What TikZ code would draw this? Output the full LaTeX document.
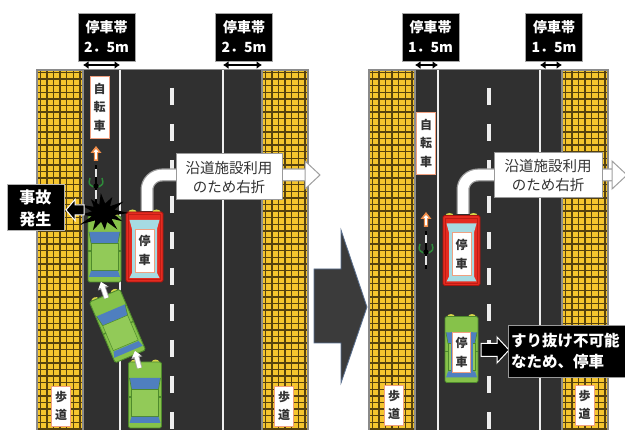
\documentclass[tikz,border=0pt]{standalone}
\usepackage{fontspec}
\setmainfont{Noto Sans CJK JP}
\usetikzlibrary{arrows.meta}

\definecolor{roadc}{HTML}{303030}
\definecolor{edgec}{HTML}{8A8A8A}
\definecolor{walkc}{HTML}{F5C52E}
\definecolor{tilec}{HTML}{56420E}
\definecolor{linec}{HTML}{EEEEEE}
\definecolor{carg}{HTML}{86C24A}
\definecolor{cargd}{HTML}{4E8A2C}
\definecolor{cargl}{HTML}{92CA58}
\definecolor{carb}{HTML}{4F7FBF}
\definecolor{carr}{HTML}{E52B20}
\definecolor{carrd}{HTML}{A8140E}
\definecolor{carlb}{HTML}{A6DBE2}
\definecolor{lampc}{HTML}{D6D64A}
\definecolor{lblbd}{HTML}{F0A080}
\definecolor{txtc}{HTML}{333333}
\definecolor{bigar}{HTML}{3B3B3B}
\definecolor{bigbd}{HTML}{5A7090}
\definecolor{bikeor}{HTML}{F08C48}
\definecolor{handg}{HTML}{2E8B3A}

% tactile-paved sidewalk strip between two x positions
\newcommand\walkstrip[2]{%
  \fill[walkc] (#1,70) rectangle (#2,440);
  \foreach \k in {0,...,55} \draw[tilec, line width=1.4] (#1,72.5+6.6*\k) -- (#2,72.5+6.6*\k);
  \foreach \k in {0,...,6} \draw[tilec, line width=1.4] (#1+3.3+6.6*\k,70) -- (#1+3.3+6.6*\k,440);
  \draw[edgec, line width=1.5] (#1,70) rectangle (#2,440);
}

\tikzset{
  headbox/.style={fill=black, draw=gray!70, line width=0.8, text=white,
    font=\bfseries\fontsize{14}{20}\selectfont, align=center,
    minimum width=57, minimum height=48, inner sep=0},
  vlabel/.style={fill=white, draw=lblbd, line width=0.8, text=txtc,
    font=\bfseries\fontsize{12}{18.5}\selectfont, align=center,
    inner sep=0, minimum width=19},
  notebox/.style={fill=white, draw=gray!80, line width=1, text=txtc,
    font=\fontsize{14.5}{19}\selectfont, align=center,
    minimum width=106, minimum height=46, inner sep=0},
  blackbox/.style={fill=black, draw=gray!80, line width=1, text=white,
    font=\bfseries\fontsize{16}{22}\selectfont, inner sep=0},
  carlbl/.style={fill=white, draw=lblbd, line width=0.8, text=txtc,
    font=\bfseries\fontsize{12}{19}\selectfont, align=center, inner sep=0},
  harrow/.style={black, line width=2.6, {Latex[length=5.5,width=8]}-{Latex[length=5.5,width=8]}},
  lanemark/.style={linec, line width=2.2},
  centremark/.style={linec, line width=3.5, dash pattern=on 17pt off 19pt},
  turnout/.style={gray!75, line width=13, rounded corners=15pt},
  turnin/.style={white, line width=10.5, rounded corners=15pt},
  movegray/.style={gray!70, line width=5.5, -{Triangle[length=7,width=11]}},
  movewhite/.style={white, line width=3.8, -{Triangle[length=5.5,width=8.5]}},
  pics/greencar/.style={code={
    \fill[lampc] (-10.5,-33) ellipse (3.8pt and 2.4pt);
    \fill[lampc] (10.5,-33) ellipse (3.8pt and 2.4pt);
    \draw[fill=carg, draw=cargd, line width=0.9, rounded corners=1.5pt] (-16.5,-33) rectangle (16.5,33);
    \fill[carb] (-15.5,-17) -- (15.5,-17) -- (13.5,-6) -- (-13.5,-6) -- cycle;
    \draw[fill=cargl, draw=cargd, line width=0.5] (-13.5,-6) rectangle (13.5,21);
    \fill[carb] (-13.5,22) -- (13.5,22) -- (15.5,28) -- (-15.5,28) -- cycle;
    \draw[cargd, line width=0.6] (-15.5,-17) -- (-13.5,-6) (15.5,-17) -- (13.5,-6);
    \draw[cargd, line width=1.3] (-16.5,2) -- (-13.5,2) (16.5,2) -- (13.5,2);
  }},
  pics/parkedgreen/.style={code={
    \pic (-body) {greencar};
    \fill[carb] (-11,-17) rectangle (11,24);
    \node[carlbl, minimum width=18, minimum height=40] (-lbl) at (0,3) {停\\車};
  }},
  pics/redcar/.style={code={
    \fill[lampc] (-12,-35) ellipse (4pt and 2.5pt);
    \fill[lampc] (12,-35) ellipse (4pt and 2.5pt);
    \draw[fill=carr, draw=carrd, line width=0.9, rounded corners=1.5pt] (-18.5,-35) rectangle (18.5,35);
    \draw[carrd!60!carr, line width=0.5] (-16,-32.5) rectangle (16,32.5);
    \fill[carlb] (-15,-27) -- (15,-27) -- (12.5,-18) -- (12.5,26) -- (15,31) -- (-15,31)
      -- (-12.5,26) -- (-12.5,-18) -- cycle;
    \node[carlbl, minimum width=19, minimum height=43] (-lbl) at (0,3.5) {停\\車};
  }},
  pics/bike/.style={code={
    \fill[bikeor] (0,-40) -- (5.5,-33) -- (2.2,-33) -- (2.2,-25) -- (-2.2,-25) -- (-2.2,-33) -- (-5.5,-33) -- cycle;
    \fill[white] (0,-37) -- (2.8,-33.8) -- (0.9,-33.8) -- (0.9,-26.5) -- (-0.9,-26.5) -- (-0.9,-33.8) -- (-2.8,-33.8) -- cycle;
    \draw[white!80!gray, line width=2.6] (0,-21) -- (0,17);
    \draw[black, line width=1.2] (0,-21) -- (0,-17) (0,-9) -- (0,4) (0,13) -- (0,17);
    \draw[handg, line width=1.5] (-6,-8) .. controls (-7.5,-2) .. (-2.5,1);
    \draw[handg, line width=1.5] (6,-8) .. controls (7.5,-2) .. (2.5,1);
    \fill[black] (0,0) circle (2.6pt);
  }},
}

\begin{document}
\begin{tikzpicture}[x=1pt, y=-1pt]
\useasboundingbox (0,0) rectangle (625,430);
\clip (0,0) rectangle (625,430);
\fill[white] (0,0) rectangle (625,430);

% ---------------- before: 2.5 m parking bands ----------------
\fill[roadc] (37,70) rectangle (308,440);
\walkstrip{37}{83}
\walkstrip{262}{308}
\draw[edgec, line width=1] (83,70) -- (262,70);
\draw[lanemark] (120,70) -- (120,440);
\draw[lanemark] (223,70) -- (223,440);
\draw[centremark] (172,88) -- (172,440);

\node[headbox] (hL1) at (106.5,37) {停車帯\\2．5m};
\node[headbox] (hL2) at (244,37) {停車帯\\2．5m};
\coordinate (dL1a) at (83,65);  \coordinate (dL1b) at (120,65);
\coordinate (dL2a) at (223,65); \coordinate (dL2b) at (262,65);
\draw[harrow] (dL1a) -- (dL1b);
\draw[harrow] (dL2a) -- (dL2b);

\node[vlabel, minimum height=62] (bikeL) at (99.5,107) {自\\転\\車};
\node[vlabel, minimum height=40] (walkL1) at (61,406) {歩\\道};
\node[vlabel, minimum height=40] (walkL2) at (284,406) {歩\\道};

\pic (cyclistL) at (96,186) {bike};

% right-turning car and its path
\coordinate (turnL0) at (147,211);
\coordinate (turnL1) at (306,175);
\draw[turnout] (turnL0) |- (turnL1);
\draw[turnin] (turnL0) |- (turnL1);
\filldraw[fill=white, draw=gray!75, line width=1] (305,161) -- (320,175) -- (305,189) -- cycle;
\pic (redL) at (144.5,247) {redcar};

% following cars
\pic (gL1) at (104.5,249) {greencar};
\pic[rotate=23] (gL2) at (117.5,326) {greencar};
\pic (gL3) at (145,395) {greencar};
\coordinate (mvA0) at (106.5,298); \coordinate (mvA1) at (101,282);
\coordinate (mvB0) at (139.5,368); \coordinate (mvB1) at (135,351);
\draw[movegray] (mvA0) -- (mvA1);
\draw[movewhite] (mvA0) -- (mvA1);
\draw[movegray] (mvB0) -- (mvB1);
\draw[movewhite] (mvB0) -- (mvB1);

% collision burst
\begin{scope}[shift={(103,213)}, yscale=0.8]
\fill[black] (0:26) -- (12:12) -- (28:22) -- (40:11) -- (55:25) -- (70:12) -- (85:21)
  -- (100:11) -- (115:24) -- (130:12) -- (148:27) -- (160:12) -- (175:22) -- (190:11)
  -- (205:25) -- (220:12) -- (235:21) -- (250:11) -- (265:25) -- (280:12) -- (295:22)
  -- (310:11) -- (325:25) -- (340:12) -- cycle;
\end{scope}
\filldraw[fill=black, draw=white, line width=1] (84,205) -- (75,205) -- (75,199.5) -- (66,210)
  -- (75,220.5) -- (75,215) -- (84,215) -- cycle;
\node[blackbox, draw=gray!60, minimum width=57, minimum height=46, align=center] (accident) at (35.5,208) {事故\\発生};

\node[notebox] (noteL) at (229,177) {沿道施設利用\\のため右折};

% ---------------- transition arrow ----------------
\filldraw[fill=bigar, draw=bigbd, line width=0.8] (314,269) -- (341,269) -- (341,230) -- (367,307)
  -- (341,383) -- (341,343) -- (314,343) -- cycle;

% ---------------- after: 1.5 m parking bands ----------------
\fill[roadc] (369,70) rectangle (608,440);
\walkstrip{369}{415}
\walkstrip{562}{608}
\draw[edgec, line width=1] (415,70) -- (562,70);
\draw[lanemark] (438,70) -- (438,440);
\draw[lanemark] (540,70) -- (540,440);
\draw[centremark] (489,88) -- (489,440);

\node[headbox] (hR1) at (430.5,37) {停車帯\\1．5m};
\node[headbox] (hR2) at (554,37) {停車帯\\1．5m};
\coordinate (dR1a) at (415,65); \coordinate (dR1b) at (438,65);
\coordinate (dR2a) at (540,65); \coordinate (dR2b) at (562,65);
\draw[harrow] (dR1a) -- (dR1b);
\draw[harrow] (dR2a) -- (dR2b);

\node[vlabel, minimum height=62] (bikeR) at (426,143) {自\\転\\車};
\node[vlabel, minimum height=40] (walkR1) at (394,405) {歩\\道};
\node[vlabel, minimum height=40] (walkR2) at (584.5,405) {歩\\道};

\pic (cyclistR) at (426,252) {bike};

\coordinate (turnR0) at (463,214);
\coordinate (turnR1) at (613,175);
\draw[turnout] (turnR0) |- (turnR1);
\draw[turnin] (turnR0) |- (turnR1);
\filldraw[fill=white, draw=gray!75, line width=1] (612,161) -- (627,175) -- (612,189) -- cycle;
\pic (redR) at (461.5,250.5) {redcar};
\node[notebox, minimum width=108, minimum height=45] (noteR) at (548,175.5) {沿道施設利用\\のため右折};

\pic (gR) at (461.5,349.5) {parkedgreen};
\filldraw[fill=black, draw=white, line width=1] (481,343.5) -- (497,343.5) -- (497,337) -- (509,350)
  -- (497,363) -- (497,356.5) -- (481,356.5) -- cycle;
\node[blackbox, anchor=north west, text width=125, minimum height=52, align=left,
  inner xsep=2.5, font=\bfseries\fontsize{15.5}{21}\selectfont] (stopped) at (508,325) {すり抜け不可能\\なため、停車};
\end{tikzpicture}
\end{document}
